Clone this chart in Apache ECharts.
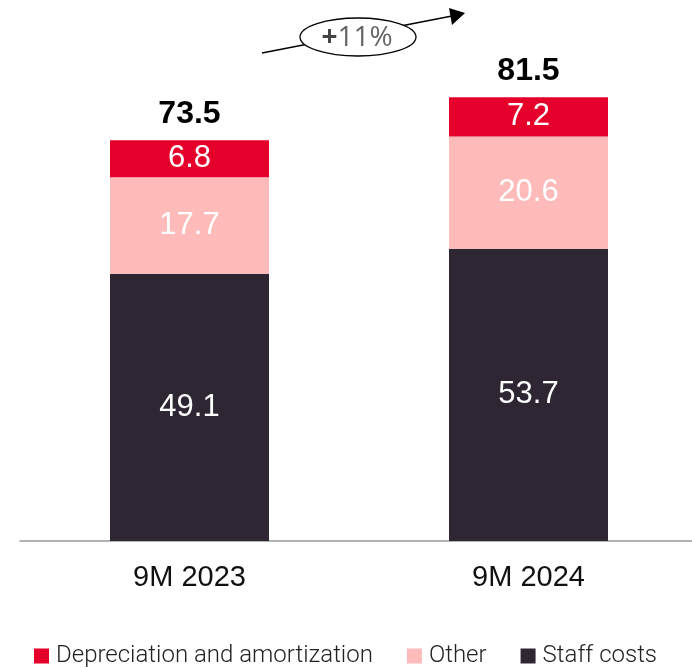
<!DOCTYPE html>
<html>
<head>
<meta charset="utf-8">
<script src="https://cdn.jsdelivr.net/npm/echarts@6/dist/echarts.min.js"></script>
<style>
  html, body { margin: 0; padding: 0; background: #fff; overflow: hidden; }
  #chart { width: 700px; height: 668px; }
</style>
</head>
<body>
<div id="chart"></div>
<script>
const categories = ['9M 2023', '9M 2024'];
const staffCosts = [49.1, 53.7];
const other = [17.7, 20.6];
const depreciation = [6.8, 7.2];
const totals = [73.5, 81.5];
const growthLabel = '11%';

const chart = echarts.init(document.getElementById('chart'));

const inLabel = (color) => ({
  show: true, position: 'inside', color: color,
  fontFamily: 'Liberation Sans, Arial', fontSize: 31
});

chart.setOption({
  animation: false,
  grid: { left: 20, width: 678, top: 51, height: 490 },
  xAxis: {
    type: 'category', data: categories,
    axisLine: { show: true, lineStyle: { color: '#9a9a9a', width: 1.5 } },
    axisTick: { show: false },
    axisLabel: { color: '#111', fontFamily: 'Liberation Sans, Arial', fontSize: 29, margin: 22 }
  },
  yAxis: { type: 'value', min: 0, max: 90, show: false, splitLine: { show: false } },
  legend: {
    top: 644, left: 34, padding: 0, itemWidth: 15, itemHeight: 15, itemGap: 34,
    icon: 'rect',
    textStyle: { fontFamily: 'Roboto', fontWeight: 300, fontSize: 24, color: '#222', padding: [0, 0, 0, 2] },
    data: ['Depreciation and amortization', 'Other', 'Staff costs']
  },
  series: [
    {
      name: 'Staff costs', type: 'bar', stack: 'c', barWidth: 159,
      itemStyle: { color: '#2e2733' }, label: inLabel('#fff'), data: staffCosts
    },
    {
      name: 'Other', type: 'bar', stack: 'c',
      itemStyle: { color: '#ffbaba' }, label: inLabel('#fff'), data: other
    },
    {
      name: 'Depreciation and amortization', type: 'bar', stack: 'c',
      itemStyle: { color: '#e4002b' }, label: inLabel('#fff'), data: depreciation
    },
    {
      name: 'total', type: 'bar', stack: 'c', data: totals.map(() => 0),
      itemStyle: { color: 'transparent' },
      label: {
        show: true, position: 'top', distance: 10,
        formatter: (p) => totals[p.dataIndex].toFixed(1),
        color: '#000', fontWeight: 'bold', fontFamily: 'Liberation Sans, Arial', fontSize: 32
      }
    }
  ],
  graphic: [
    {
      type: 'line', shape: { x1: 262, y1: 53, x2: 452, y2: 16 },
      style: { stroke: '#000', lineWidth: 1.3 }
    },
    {
      type: 'polygon', shape: { points: [[465, 13], [449, 8], [452, 25]] },
      style: { fill: '#000' }
    },
    {
      type: 'ellipse', shape: { cx: 358, cy: 37, rx: 58, ry: 19 },
      style: { fill: '#fff', stroke: '#000', lineWidth: 1.3 }
    },
    {
      type: 'text', x: 357, y: 38,
      style: {
        text: '{p|+}{v|' + growthLabel + '}', align: 'center', verticalAlign: 'middle',
        rich: {
          p: { fill: '#444', fontFamily: 'Open Sans', fontWeight: 'bold', fontSize: 28 },
          v: { fill: '#666', fontFamily: 'Open Sans', fontSize: 28 }
        }
      }
    }
  ]
});
</script>
</body>
</html>
